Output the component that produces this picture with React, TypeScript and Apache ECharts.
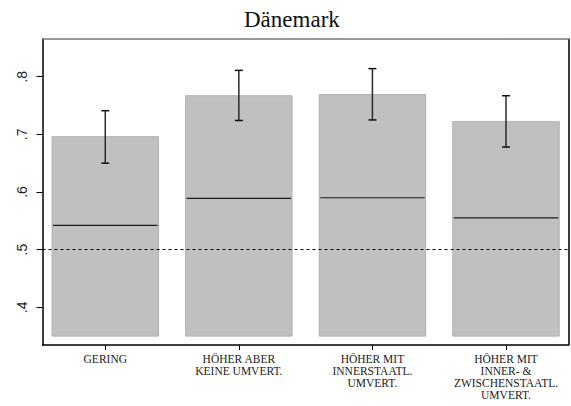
import React, { useEffect, useRef } from "react";
import * as echarts from "echarts";

const categories = [
  "GERING",
  "HÖHER ABER\nKEINE UMVERT.",
  "HÖHER MIT\nINNERSTAATL.\nUMVERT.",
  "HÖHER MIT\nINNER- &\nZWISCHENSTAATL.\nUMVERT.",
];
const means = [0.696, 0.767, 0.769, 0.722];
const lower = [0.65, 0.724, 0.725, 0.678];
const upper = [0.741, 0.811, 0.814, 0.767];
const medians = [0.542, 0.589, 0.59, 0.555];
const barBase = 0.35;
const referenceLine = 0.5;
const yTicks = [0.4, 0.5, 0.6, 0.7, 0.8];
const yTickLabels = [".4", ".5", ".6", ".7", ".8"];
const title = "Dänemark";

export default function App() {
  const ref = useRef<HTMLDivElement>(null);
  useEffect(() => {
    if (!ref.current) return;
    const chart = echarts.init(ref.current, undefined, { renderer: "svg" });
    const data = categories.map((_, i) => [i + 1, means[i], lower[i], upper[i], medians[i]]);
    const serif = "Liberation Serif";
    const sans = "Liberation Sans";
    chart.setOption({
      animation: false,
      backgroundColor: "#ffffff",
      title: {
        text: title,
        left: 239,
        top: 3,
        textStyle: { fontFamily: serif, fontSize: 23, fontWeight: "normal", color: "#111" },
      },
      grid: { left: 42.5, right: 2.5, top: 39, bottom: 61, outerBoundsMode: "none" },
      xAxis: [
        {
          type: "value",
          min: 0.53,
          max: 4.468,
          position: "bottom",
          splitLine: { show: false },
          axisLine: { show: true, onZero: false, lineStyle: { color: "#000", width: 1.5 } },
          axisTick: { show: true, length: 5, customValues: [1, 2, 3, 4], lineStyle: { color: "#000", width: 1 } },
          axisLabel: {
            customValues: [1, 2, 3, 4],
            formatter: (v: number) => categories[Math.round(v) - 1] ?? "",
            fontFamily: serif,
            fontSize: 11.5,
            lineHeight: 12,
            color: "#222",
            margin: 8,
          },
        },
        {
          type: "value",
          min: 0.53,
          max: 4.468,
          position: "top",
          splitLine: { show: false },
          axisLine: { show: true, onZero: false, lineStyle: { color: "#777", width: 1.5 } },
          axisTick: { show: false },
          axisLabel: { show: false },
        },
      ],
      yAxis: [
        {
          type: "value",
          min: 0.3346,
          max: 0.8654,
          position: "left",
          splitLine: { show: false },
          axisLine: { show: true, onZero: false, lineStyle: { color: "#000", width: 1.5 } },
          axisTick: { show: true, length: 6, customValues: yTicks, lineStyle: { color: "#000", width: 1 } },
          axisLabel: {
            customValues: yTicks,
            formatter: (v: number) => yTickLabels[yTicks.findIndex((t) => Math.abs(t - v) < 1e-6)] ?? "",
            rotate: 90,
            fontFamily: sans,
            fontSize: 14,
            color: "#222",
            margin: 14,
          },
        },
        {
          type: "value",
          min: 0.3346,
          max: 0.8654,
          position: "right",
          splitLine: { show: false },
          axisLine: { show: true, onZero: false, lineStyle: { color: "#000", width: 1.5 } },
          axisTick: { show: false },
          axisLabel: { show: false },
        },
      ],
      series: [
        {
          type: "custom",
          xAxisIndex: 0,
          yAxisIndex: 0,
          data,
          renderItem: (params: any, api: any) => {
            const x = api.value(0);
            const mean = api.value(1);
            const lo = api.value(2);
            const hi = api.value(3);
            const med = api.value(4);
            const w = api.size([0.797, 0])[0];
            const pBase = api.coord([x, barBase]);
            const pTop = api.coord([x, mean]);
            const pLo = api.coord([x, lo]);
            const pHi = api.coord([x, hi]);
            const pMed = api.coord([x, med]);
            const cx = pBase[0];
            const cap = 4;
            return {
              type: "group",
              children: [
                {
                  type: "rect",
                  shape: { x: cx - w / 2, y: pTop[1], width: w, height: pBase[1] - pTop[1] },
                  style: { fill: "#c0c0c0", stroke: "#b0b0b0", lineWidth: 1 },
                },
                {
                  type: "line",
                  shape: { x1: cx - w / 2 + 1, y1: pMed[1], x2: cx + w / 2 - 1, y2: pMed[1] },
                  style: { stroke: "#1a1a1a", lineWidth: 1.2 },
                },
                {
                  type: "line",
                  shape: { x1: cx, y1: pLo[1], x2: cx, y2: pHi[1] },
                  style: { stroke: "#2a2a2a", lineWidth: 1.5 },
                },
                {
                  type: "line",
                  shape: { x1: cx - cap, y1: pHi[1], x2: cx + cap, y2: pHi[1] },
                  style: { stroke: "#111", lineWidth: 1.5 },
                },
                {
                  type: "line",
                  shape: { x1: cx - cap, y1: pLo[1], x2: cx + cap, y2: pLo[1] },
                  style: { stroke: "#111", lineWidth: 1.5 },
                },
              ],
            };
          },
          markLine: {
            silent: true,
            symbol: ["none", "none"],
            label: { show: false },
            lineStyle: { color: "#000", width: 1, type: [3, 3] },
            data: [{ yAxis: referenceLine }],
          },
          z: 2,
        },
      ],
    });
    return () => chart.dispose();
  }, []);
  return <div ref={ref} style={{ width: 571, height: 406, position: "absolute", left: 0, top: 0 }} />;
}
